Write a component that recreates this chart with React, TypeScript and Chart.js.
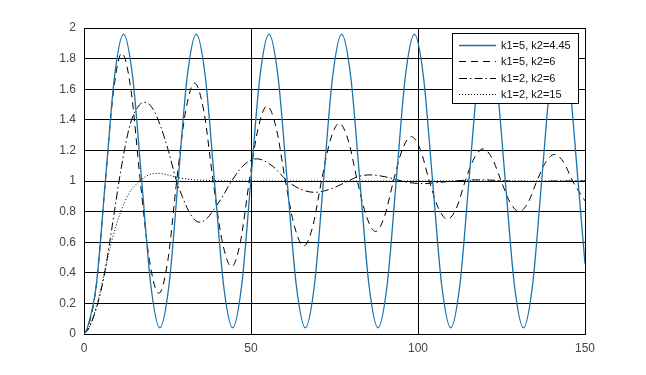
import React, { useEffect, useRef } from "react";
import { Chart, registerables } from "chart.js";

Chart.register(...registerables);

// ---- axes ----
const xMin = 0;
const xMax = 150;
const xStep = 50;
const yMin = 0;
const yMax = 2;
const yStep = 0.2;

// ---- series labels ----
const seriesLabels = ["k1=5, k2=4.45", "k1=5, k2=6", "k1=2, k2=6", "k1=2, k2=15"];

// ---- k1=5, k2=4.45 (blue, undamped oscillation) ----
const s1X = [
  0, 1.0, 3.68, 6.4, 9.12, 11.84, 14.57, 17.29, 20.0, 22.73, 25.45,
  28.17, 30.89, 33.61, 36.33, 39.06, 41.78, 44.5, 47.22,
  49.94, 52.66, 55.38, 58.1, 60.83, 63.55, 66.27, 68.99,
  71.71, 74.43, 77.15, 79.87, 82.6, 85.32, 88.04, 90.76,
  93.48, 96.2, 98.92, 101.64, 104.37, 107.09, 109.81, 112.53,
  115.25, 117.97, 120.69, 123.41, 126.14, 128.86, 131.58, 134.3,
  137.02, 139.74, 142.46, 145.18, 147.91, 150,
];
const s1Y = [
  0, 0.04, 0.32, 1.0, 1.68, 1.96, 1.68, 1.0, 0.32, 0.04, 0.32,
  1.0, 1.68, 1.96, 1.68, 1.0, 0.32, 0.04, 0.32,
  1.0, 1.68, 1.96, 1.68, 1.0, 0.32, 0.04, 0.32,
  1.0, 1.68, 1.96, 1.68, 1.0, 0.32, 0.04, 0.32,
  1.0, 1.68, 1.96, 1.68, 1.0, 0.32, 0.04, 0.32,
  1.0, 1.68, 1.96, 1.68, 1.0, 0.32, 0.04, 0.32,
  1.0, 1.68, 1.96, 1.68, 1.0, 0.46,
];

// ---- k1=5, k2=6 (dashed) ----
const s2X = [
  0, 1.0, 3.7, 6.4, 8.85, 11.3, 14.1, 16.85, 19.6, 22.4, 25.1, 27.75, 30.4,
  33.1, 35.9, 38.65, 41.4, 44.2, 46.85, 49.5, 52.15,
  54.8, 57.55, 60.3, 63.05, 65.8, 68.45, 71.1, 73.75,
  76.4, 79.1, 81.85, 84.6, 87.3, 89.95, 92.65, 95.3,
  98.0, 100.7, 103.4, 106.1, 108.8, 111.5, 114.15, 116.8,
  119.5, 122.2, 124.9, 127.6, 130.3, 132.95, 135.6, 138.25,
  140.9, 143.6, 146.3, 150,
];
const s2Y = [
  0, 0.03, 0.32, 1.0, 1.59, 1.835, 1.59, 1.0, 0.48, 0.266, 0.48, 1.0, 1.453,
  1.64, 1.453, 1.0, 0.604, 0.44, 0.604, 1.0, 1.346,
  1.49, 1.346, 1.0, 0.70, 0.575, 0.70, 1.0, 1.267,
  1.377, 1.267, 1.0, 0.767, 0.67, 0.767, 1.0, 1.205,
  1.29, 1.205, 1.0, 0.823, 0.75, 0.823, 1.0, 1.148,
  1.21, 1.148, 1.0, 0.859, 0.80, 0.859, 1.0, 1.123,
  1.174, 1.123, 1.0, 0.87,
];

// ---- k1=2, k2=6 (dash-dot) ----
const s3X = [
  0, 1.5, 3.0, 4.5, 6.2, 7.7, 9.1, 10.5, 12.1, 13.8, 16.0, 18.1,
  20.5, 22.9, 25.3, 27.7, 29.45, 31.2, 32.95, 34.7, 37.0, 39.4, 41.8, 44.2,
  47.9, 51.7, 56.3, 60.9, 65.0, 69.2, 74.1, 79.1, 82.3, 85.6, 90.3,
  95.1, 98.3, 101.5, 106.0, 110.5, 118.6, 127.0, 135.0, 142.0, 150,
];
const s3Y = [
  0, 0.04, 0.12, 0.23, 0.4, 0.6, 0.8, 1.0, 1.2, 1.37, 1.48, 1.515,
  1.476, 1.36, 1.195, 1.0, 0.897, 0.81, 0.75, 0.73, 0.76, 0.83, 0.91, 1.0,
  1.105, 1.145, 1.1, 1.0, 0.945, 0.926, 0.95, 1.0, 1.03, 1.04, 1.027,
  1.0, 0.987, 0.983, 0.99, 1.0, 1.008, 1.0, 0.997, 1.0, 1.0,
];

// ---- k1=2, k2=15 (dotted) ----
const s4X = [
  0, 1.5, 3.0, 4.2, 6.1, 8.2, 11.0, 13.5, 16.7, 19.5, 22.3, 25.0, 27.7,
  32.0, 38.0, 45.0, 150,
];
const s4Y = [
  0, 0.04, 0.13, 0.22, 0.4, 0.6, 0.8, 0.92, 1.0, 1.04, 1.05, 1.04, 1.024,
  1.01, 1.003, 1.0, 1.0,
];

const toPoints = (xs: number[], ys: number[]) => xs.map((x, i) => ({ x, y: ys[i] }));

const boxLegend = {
  id: "boxLegend",
  afterDraw(chart: any) {
    const ctx = chart.ctx as CanvasRenderingContext2D;
    ctx.save();
    const bx = 452.5, by = 33.5, bw = 126, bh = 70;
    ctx.fillStyle = "#ffffff";
    ctx.fillRect(bx, by, bw, bh);
    ctx.strokeStyle = "#000000";
    ctx.lineWidth = 1;
    ctx.setLineDash([]);
    ctx.strokeRect(bx, by, bw, bh);
    chart.data.datasets.forEach((ds: any, i: number) => {
      const y = Math.round(45 + i * 16.3) + 0.5;
      ctx.strokeStyle = ds.borderColor;
      ctx.lineWidth = ds.borderWidth;
      ctx.setLineDash(ds.borderDash || []);
      ctx.beginPath();
      ctx.moveTo(459, y);
      ctx.lineTo(496, y);
      ctx.stroke();
      ctx.setLineDash([]);
      ctx.fillStyle = "#111111";
      ctx.font = '11px "Liberation Sans", Arial, sans-serif';
      ctx.textBaseline = "middle";
      ctx.textAlign = "left";
      ctx.fillText(ds.label, 501, y);
    });
    ctx.restore();
  },
};

export default function App() {
  const ref = useRef<HTMLCanvasElement | null>(null);

  useEffect(() => {
    if (!ref.current) return;
    const common = {
      pointRadius: 0,
      fill: false,
      cubicInterpolationMode: "monotone" as const,
    };
    const chart = new Chart(ref.current, {
      type: "line",
      data: {
        datasets: [
          { ...common, label: seriesLabels[0], data: toPoints(s1X, s1Y), borderColor: "#1b72ab", borderWidth: 1.3, borderDash: [] },
          { ...common, label: seriesLabels[1], data: toPoints(s2X, s2Y), borderColor: "#000000", borderWidth: 1, borderDash: [7, 5] },
          { ...common, label: seriesLabels[2], data: toPoints(s3X, s3Y), borderColor: "#000000", borderWidth: 1, borderDash: [8, 3, 1.5, 3] },
          { ...common, label: seriesLabels[3], data: toPoints(s4X, s4Y), borderColor: "#000000", borderWidth: 1, borderDash: [1, 2] },
        ],
      },
      options: {
        responsive: false,
        animation: false,
        layout: { padding: { left: 0, top: 28, right: 61, bottom: 0 } },
        plugins: { legend: { display: false }, tooltip: { enabled: false } },
        scales: {
          x: {
            type: "linear",
            min: xMin,
            max: xMax,
            ticks: {
              stepSize: xStep,
              padding: 7,
              color: "#444",
              font: { family: '"Liberation Sans", Arial, sans-serif', size: 12 },
              maxRotation: 0,
            },
            grid: { color: "#000", lineWidth: 1, drawTicks: false },
            border: { display: true, color: "#000" },
            afterFit: (s: any) => { s.height = 41; },
          },
          y: {
            min: yMin,
            max: yMax,
            ticks: {
              stepSize: yStep,
              padding: 8,
              color: "#444",
              font: { family: '"Liberation Sans", Arial, sans-serif', size: 12 },
              callback: (v: any) => String(Math.round(Number(v) * 10) / 10),
            },
            grid: { color: "#000", lineWidth: 1, drawTicks: false },
            border: { display: true, color: "#000" },
            afterFit: (s: any) => { s.width = 84; },
          },
        },
      },
      plugins: [boxLegend],
    });
    return () => chart.destroy();
  }, []);

  return (
    <div style={{ position: "absolute", left: 0, top: 0, width: 646, height: 375, background: "#fff" }}>
      <canvas ref={ref} width={646} height={375} style={{ display: "block" }} />
    </div>
  );
}
